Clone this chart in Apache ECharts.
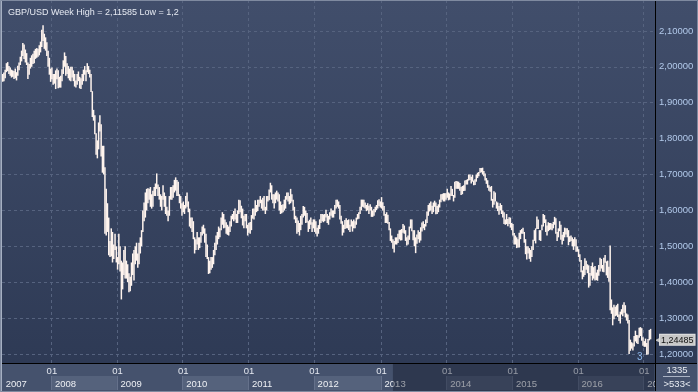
<!DOCTYPE html>
<html><head><meta charset="utf-8">
<script src="https://cdn.jsdelivr.net/npm/echarts@6/dist/echarts.min.js"></script>
<style>html,body{margin:0;padding:0;background:#2f3b57;}#c{width:698px;height:392px;}</style>
</head><body><div id="c"></div><script>
// Weekly high/low bars, GBP/USD, weeks starting 2007-04-02 ([low, high])
const w2007 = [[1.958,1.980],[1.960,1.984],[1.968,1.992],[1.985,2.010],[1.988,2.013],[1.980,2.002],[1.975,1.998],[1.970,1.992],[1.972,1.990],[1.966,1.988],
[1.968,1.995],[1.962,1.985],[1.975,2.003],[1.990,2.012],[2.005,2.028],[2.015,2.045],[2.030,2.066],[2.022,2.062],[2.012,2.048],[2.005,2.038],
[1.966,2.012],[1.978,2.008],[1.995,2.025],[2.000,2.032],[2.008,2.036],[2.010,2.045],[2.022,2.050],[2.025,2.052],[2.028,2.050],[2.032,2.060],
[2.040,2.070],[2.055,2.103],[2.072,2.116],[2.050,2.092],[2.045,2.082],[2.030,2.068],[2.000,2.045],[1.978,2.025],[1.958,1.995]];
const w2008 = [[1.965,1.998],[1.950,1.980],[1.953,1.980],[1.938,1.990],[1.965,1.995],[1.940,1.990],[1.942,1.972],[1.942,1.975],[1.960,1.993],[1.980,2.018],
[2.000,2.040],[1.975,2.030],[1.980,2.010],[1.968,2.002],[1.962,1.995],[1.960,2.000],[1.970,2.000],[1.960,1.990],[1.945,1.980],[1.942,1.962],
[1.950,1.980],[1.960,1.987],[1.940,1.972],[1.938,1.968],[1.950,1.980],[1.960,1.992],[1.978,2.002],[1.960,1.990],[1.985,2.010],[1.980,2.002],
[1.970,1.992],[1.930,1.980],[1.860,1.932],[1.850,1.880],[1.812,1.865],[1.755,1.815],[1.745,1.795],[1.770,1.845],[1.820,1.865],[1.750,1.840],
[1.705,1.780],[1.700,1.780],[1.535,1.720],[1.530,1.660],[1.540,1.620],[1.475,1.580],[1.470,1.515],[1.472,1.550],[1.455,1.540],[1.465,1.505],
[1.490,1.535],[1.455,1.500],[1.435,1.470]];
const w2009 = [[1.450,1.535],[1.430,1.500],[1.352,1.460],[1.380,1.455],[1.420,1.490],[1.410,1.500],[1.410,1.460],[1.400,1.450],[1.372,1.425],[1.375,1.415],
[1.390,1.455],[1.420,1.480],[1.405,1.490],[1.450,1.500],[1.460,1.510],[1.440,1.480],[1.450,1.510],[1.480,1.525],[1.500,1.545],[1.540,1.600],
[1.570,1.622],[1.580,1.650],[1.600,1.660],[1.620,1.662],[1.630,1.660],[1.610,1.665],[1.605,1.645],[1.610,1.655],[1.640,1.665],[1.640,1.675],
[1.660,1.703],[1.640,1.672],[1.630,1.665],[1.610,1.645],[1.600,1.640],[1.630,1.670],[1.610,1.650],[1.590,1.640],[1.585,1.610],[1.570,1.600],
[1.585,1.640],[1.630,1.665],[1.630,1.665],[1.635,1.670],[1.650,1.685],[1.655,1.692],[1.640,1.685],[1.640,1.680],[1.620,1.645],[1.605,1.640],
[1.585,1.620],[1.595,1.625]];
const w2010 = [[1.590,1.615],[1.605,1.640],[1.610,1.650],[1.595,1.625],[1.555,1.605],[1.550,1.580],[1.540,1.580],[1.520,1.570],[1.480,1.525],[1.490,1.520],
[1.505,1.540],[1.490,1.525],[1.495,1.525],[1.510,1.540],[1.530,1.555],[1.535,1.560],[1.510,1.550],[1.470,1.535],[1.465,1.505],[1.423,1.470],
[1.425,1.460],[1.435,1.470],[1.440,1.470],[1.450,1.490],[1.475,1.510],[1.490,1.530],[1.505,1.540],[1.520,1.555],[1.525,1.550],[1.545,1.580],
[1.560,1.595],[1.550,1.590],[1.552,1.575],[1.535,1.567],[1.532,1.560],[1.530,1.555],[1.540,1.570],[1.555,1.585],[1.575,1.590],[1.570,1.598],
[1.575,1.605],[1.565,1.590],[1.565,1.600],[1.590,1.630],[1.595,1.628],[1.578,1.613],[1.558,1.605],[1.550,1.585],[1.570,1.590],[1.550,1.590],
[1.530,1.560],[1.538,1.565]];
const w2011 = [[1.535,1.568],[1.545,1.587],[1.577,1.605],[1.575,1.605],[1.585,1.628],[1.595,1.615],[1.598,1.630],[1.610,1.630],[1.620,1.640],[1.605,1.630],
[1.600,1.635],[1.600,1.640],[1.590,1.610],[1.600,1.640],[1.625,1.640],[1.628,1.658],[1.650,1.677],[1.630,1.670],[1.620,1.645],[1.605,1.645],
[1.620,1.650],[1.630,1.655],[1.625,1.650],[1.600,1.645],[1.590,1.625],[1.592,1.615],[1.595,1.617],[1.600,1.630],[1.605,1.640],[1.630,1.650],
[1.625,1.650],[1.617,1.640],[1.620,1.660],[1.625,1.645],[1.600,1.630],[1.575,1.610],[1.565,1.585],[1.535,1.580],[1.540,1.572],[1.530,1.565],
[1.545,1.585],[1.560,1.590],[1.580,1.612],[1.585,1.610],[1.565,1.600],[1.566,1.593],[1.540,1.570],[1.548,1.574],[1.560,1.580],[1.540,1.567],
[1.550,1.575],[1.540,1.575]];
const w2012 = [[1.535,1.570],[1.527,1.552],[1.535,1.559],[1.548,1.575],[1.565,1.590],[1.570,1.590],[1.567,1.589],[1.570,1.590],[1.580,1.602],[1.565,1.590],
[1.560,1.585],[1.575,1.595],[1.585,1.605],[1.580,1.600],[1.580,1.600],[1.590,1.615],[1.605,1.630],[1.610,1.630],[1.605,1.625],[1.575,1.615],
[1.563,1.585],[1.530,1.570],[1.538,1.560],[1.548,1.573],[1.550,1.578],[1.550,1.573],[1.545,1.575],[1.540,1.560],[1.555,1.575],[1.541,1.570],
[1.550,1.575],[1.550,1.570],[1.560,1.580],[1.575,1.590],[1.577,1.595],[1.590,1.610],[1.600,1.630],[1.610,1.630],[1.608,1.630],[1.605,1.622],
[1.598,1.615],[1.600,1.620],[1.590,1.613],[1.600,1.617],[1.582,1.610],[1.582,1.600],[1.585,1.604],[1.595,1.610],[1.601,1.615],[1.605,1.628],
[1.612,1.631],[1.608,1.625]];
const w2013 = [[1.605,1.637],[1.600,1.623],[1.585,1.612],[1.565,1.590],[1.565,1.595],[1.563,1.588],[1.545,1.568],[1.515,1.550],[1.510,1.530],[1.493,1.520],
[1.483,1.515],[1.505,1.525],[1.505,1.525],[1.509,1.535],[1.520,1.545],[1.516,1.546],[1.517,1.548],[1.538,1.562],[1.535,1.558],[1.515,1.545],
[1.502,1.525],[1.505,1.530],[1.518,1.555],[1.550,1.575],[1.542,1.575],[1.517,1.545],[1.500,1.545],[1.481,1.525],[1.507,1.533],[1.520,1.545],
[1.510,1.540],[1.516,1.553],[1.541,1.566],[1.550,1.570],[1.545,1.562],[1.555,1.575],[1.565,1.597],[1.585,1.615],[1.597,1.620],[1.600,1.625],
[1.590,1.613],[1.595,1.622],[1.610,1.627],[1.589,1.622],[1.590,1.612],[1.595,1.617],[1.608,1.630],[1.623,1.645],[1.630,1.646],[1.625,1.648],
[1.625,1.648],[1.630,1.648]];
const w2014 = [[1.635,1.660],[1.628,1.650],[1.630,1.647],[1.640,1.668],[1.640,1.660],[1.625,1.643],[1.635,1.680],[1.660,1.682],[1.660,1.681],[1.660,1.680],
[1.655,1.676],[1.643,1.665],[1.645,1.668],[1.654,1.670],[1.655,1.683],[1.672,1.685],[1.672,1.687],[1.683,1.700],[1.685,1.700],[1.675,1.694],
[1.680,1.699],[1.670,1.683],[1.671,1.687],[1.680,1.700],[1.690,1.705],[1.695,1.707],[1.705,1.718],[1.706,1.718],[1.700,1.719],[1.695,1.710],
[1.683,1.703],[1.674,1.690],[1.663,1.684],[1.655,1.670],[1.652,1.665],[1.627,1.668],[1.608,1.632],[1.616,1.653],[1.625,1.650],[1.605,1.625],
[1.598,1.622],[1.588,1.612],[1.600,1.620],[1.590,1.615],[1.580,1.600],[1.562,1.595],[1.560,1.575],[1.562,1.590],[1.556,1.576],[1.562,1.581],
[1.552,1.580],[1.545,1.565]];
const w2015 = [[1.530,1.562],[1.505,1.537],[1.505,1.530],[1.495,1.525],[1.497,1.520],[1.497,1.538],[1.520,1.545],[1.535,1.548],[1.535,1.552],[1.510,1.540],
[1.478,1.520],[1.463,1.500],[1.480,1.500],[1.465,1.495],[1.457,1.490],[1.470,1.500],[1.490,1.518],[1.515,1.545],[1.508,1.550],[1.548,1.583],
[1.548,1.575],[1.517,1.545],[1.515,1.545],[1.545,1.560],[1.555,1.590],[1.565,1.587],[1.540,1.575],[1.530,1.558],[1.542,1.567],[1.545,1.565],
[1.547,1.565],[1.545,1.562],[1.550,1.568],[1.560,1.582],[1.535,1.578],[1.515,1.540],[1.525,1.550],[1.542,1.570],[1.518,1.560],[1.505,1.532],
[1.515,1.540],[1.525,1.552],[1.533,1.550],[1.525,1.550],[1.503,1.545],[1.512,1.528],[1.515,1.530],[1.500,1.525],[1.490,1.520],[1.500,1.525],
[1.485,1.520],[1.485,1.500]];
const w2016 = [[1.470,1.492],[1.457,1.478],[1.428,1.462],[1.408,1.433],[1.415,1.445],[1.420,1.467],[1.435,1.460],[1.425,1.450],[1.385,1.447],[1.390,1.426],
[1.418,1.445],[1.405,1.455],[1.410,1.442],[1.405,1.445],[1.406,1.427],[1.404,1.435],[1.418,1.448],[1.430,1.468],[1.438,1.465],[1.429,1.448],
[1.428,1.468],[1.454,1.476],[1.419,1.458],[1.412,1.460],[1.401,1.443],[1.322,1.502],[1.312,1.352],[1.280,1.330],[1.297,1.337],[1.305,1.332],
[1.307,1.336],[1.303,1.340],[1.292,1.310],[1.285,1.318],[1.310,1.325],[1.305,1.337],[1.315,1.344],[1.302,1.336],[1.293,1.313],[1.285,1.310],
[1.200,1.295],[1.209,1.240],[1.215,1.233],[1.210,1.230],[1.221,1.250],[1.235,1.265],[1.230,1.253],[1.228,1.252],[1.245,1.273],[1.250,1.275],
[1.237,1.272],[1.223,1.247],[1.220,1.236]];
const w2017 = [[1.220,1.243],[1.198,1.231],[1.199,1.242],[1.238,1.267],[1.241,1.270]];

const lastPrice = 1.24485;
const titleText = 'GBP/USD Week High = 2,11585 Low = 1,2';
const countTop = '1335';
const countBottom = '>533<';

// weekly categories
const weekStart = Date.UTC(2007, 3, 2);
const weekCount = 517;
const DAY = 864e5;
const categories = [];
for (let i = 0; i < weekCount; i++) categories.push(new Date(weekStart + i * 7 * DAY).toISOString().slice(0, 10));
function weekEnd(i) { return new Date(weekStart + (i * 7 + 6) * DAY); }
function isJanWeek(i) { const e = weekEnd(i); return e.getUTCMonth() === 0 && e.getUTCDate() <= 7; }
function isYearStart(i) { return i === 0 || isJanWeek(i); }

const allWeeks = [].concat(w2007, w2008, w2009, w2010, w2011, w2012, w2013, w2014, w2015, w2016, w2017);
const bars = allWeeks.map((d, i) => [i, d[0], d[1]]);
const lastIndex = allWeeks.length - 1;
const fmt = (v) => v.toFixed(5).replace('.', ',');

const FONT = 'Liberation Sans, Arial, sans-serif';
const chart = echarts.init(document.getElementById('c'), null, {renderer: 'canvas'});
chart.setOption({
  animation: false,
  backgroundColor: '#45526d',
  title: {text: titleText, left: 3, top: 3, textStyle: {color: '#e6eaf2', fontSize: 9, fontWeight: 'normal', fontFamily: FONT}},
  graphic: [
    {type: 'rect', z: -10, shape: {x: 0, y: 0, width: 698, height: 363},
      style: {fill: new echarts.graphic.LinearGradient(0, 0, 0, 1, [{offset: 0, color: '#414e6b'}, {offset: 1, color: '#2e3a55'}])}},
    {type: 'rect', z: -10, shape: {x: 0, y: 363, width: 655, height: 29}, style: {fill: '#45526d'}},
    {type: 'rect', z: 100, shape: {x: 656, y: 364, width: 42, height: 28}, style: {fill: '#45526d'}},
    {type: 'line', z: 101, shape: {x1: 655.5, y1: 0, x2: 655.5, y2: 392}, style: {stroke: '#000', lineWidth: 1}},
    {type: 'line', z: 101, shape: {x1: 0, y1: 363.5, x2: 698, y2: 363.5}, style: {stroke: '#000', lineWidth: 1}},
    {type: 'line', z: 101, shape: {x1: 663, y1: 376.5, x2: 690, y2: 376.5}, style: {stroke: '#aab3c4', lineWidth: 1}},
    {type: 'text', z: 102, style: {x: 677, y: 370, text: countTop, fill: '#e8ecf2', font: '9.5px ' + FONT, textAlign: 'center', textVerticalAlign: 'middle'}},
    {type: 'text', z: 102, style: {x: 677, y: 384, text: countBottom, fill: '#e8ecf2', font: '9.5px ' + FONT, textAlign: 'center', textVerticalAlign: 'middle'}},
    {type: 'text', z: 102, style: {x: 637, y: 357, text: '3', fill: '#8cb6ea', font: '10px ' + FONT, textVerticalAlign: 'middle'}},
    {type: 'rect', z: 103, shape: {x: 0, y: 0, width: 2, height: 392}, style: {fill: '#a6b0c2'}},
    {type: 'rect', z: 103, shape: {x: 0.5, y: 0.5, width: 697, height: 391}, style: {fill: 'none', stroke: '#7f8aa0', lineWidth: 1}}
  ],
  grid: [
    {left: 2, right: 43, top: 0, height: 363},
    {left: 2, right: 43, top: 364, height: 28},
    {left: 2, right: 43, top: 376, height: 14}
  ],
  xAxis: [
    {type: 'category', gridIndex: 0, data: categories, boundaryGap: true,
      axisLine: {show: true, lineStyle: {color: '#000'}}, axisTick: {show: false},
      axisLabel: {interval: (i) => isJanWeek(i), formatter: () => '01', color: '#e4e8f0', fontSize: 9.5, fontFamily: FONT, margin: 3},
      splitLine: {show: true, interval: (i) => isJanWeek(i), lineStyle: {color: '#56637f', type: [3, 3]}}},
    {type: 'category', gridIndex: 1, data: categories, show: false},
    {type: 'category', gridIndex: 2, data: categories, boundaryGap: true,
      axisLine: {show: false}, axisTick: {show: false},
      axisLabel: {interval: (i) => isYearStart(i), inside: true, align: 'left', padding: [0, 0, 0, 3], margin: 1,
        formatter: (v, i) => String(weekEnd(i).getUTCFullYear()), color: '#eef0f4', fontSize: 9.5, fontFamily: FONT},
      splitArea: {show: true, interval: (i) => isJanWeek(i), areaStyle: {color: ['rgba(0,0,0,0)', '#55627c']}},
      splitLine: {show: true, interval: (i) => isJanWeek(i), lineStyle: {color: '#65718b'}}}
  ],
  yAxis: [
    {type: 'value', gridIndex: 0, position: 'right', min: 1.175, max: 2.186, splitNumber: 10, scale: true,
      axisLine: {show: true, lineStyle: {color: '#000'}}, axisTick: {show: false},
      axisLabel: {showMinLabel: false, showMaxLabel: false, color: '#b2c9ea', fontSize: 9.5, fontFamily: FONT, margin: 4,
        formatter: fmt},
      splitLine: {show: true, lineStyle: {color: '#56637f', type: [3, 3]}}},
    {type: 'value', gridIndex: 1, show: false, min: 0, max: 1},
    {type: 'value', gridIndex: 2, show: false, min: 0, max: 1}
  ],
  series: [
    {type: 'custom', xAxisIndex: 0, yAxisIndex: 0, clip: true, data: bars, encode: {x: 0, y: [1, 2]},
      renderItem: function (params, api) {
        const i = api.value(0);
        const lo = api.coord([i, api.value(1)]);
        const hi = api.coord([i, api.value(2)]);
        return {type: 'rect', shape: {x: lo[0] - 0.75, y: hi[1], width: 1.5, height: Math.max(1, lo[1] - hi[1])},
          style: {fill: '#fff4ee'}};
      }},
    {type: 'line', xAxisIndex: 0, yAxisIndex: 0, data: [[lastIndex, lastPrice]], silent: true, showSymbol: false, symbol: 'none',
      clip: false, lineStyle: {opacity: 0}, z: 20,
      markLine: {silent: true, symbol: ['none', 'none'], animation: false,
        lineStyle: {color: 'rgba(0,0,0,0)', width: 0},
        label: {show: true, position: 'end', distance: 0, formatter: () => '{a|◀}{b|' + fmt(lastPrice) + '}',
          rich: {
            a: {color: '#c6c6c6', fontSize: 7},
            b: {color: '#111', backgroundColor: '#c6c6c6', borderColor: '#e2e2e2', borderWidth: 1, padding: [1, 1, 0, 1], fontSize: 9, fontFamily: FONT}
          }},
        data: [{yAxis: lastPrice}]}},
    {type: 'line', xAxisIndex: 1, yAxisIndex: 1, data: [], silent: true, z: 10,
      markArea: {silent: true, itemStyle: {color: 'rgba(6,12,28,0.36)'},
        data: [[{xAxis: categories[309]}, {xAxis: categories[weekCount - 1]}]]}}
  ]
});
</script></body></html>
